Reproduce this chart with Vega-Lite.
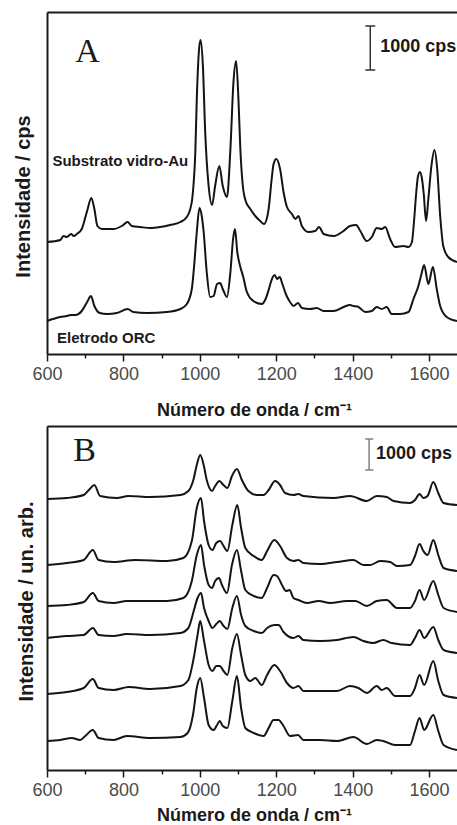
{
  "$schema": "https://vega.github.io/schema/vega-lite/v6.json",
  "padding": {"left": 13, "top": 12, "right": 0, "bottom": 0},
  "spacing": 7,
  "config": {"view": {"stroke": null}, "font": "Liberation Sans"},
  "datasets": {
    "specA": [
      {"s":"Au","x":600,"y":112},{"s":"Au","x":635,"y":114},{"s":"Au","x":643,"y":118},{"s":"Au","x":652,"y":117},{"s":"Au","x":663,"y":120},{"s":"Au","x":670,"y":118},{"s":"Au","x":678,"y":120},{"s":"Au","x":691,"y":125},{"s":"Au","x":705,"y":143},{"s":"Au","x":716,"y":156},{"s":"Au","x":724,"y":145},{"s":"Au","x":732,"y":128},{"s":"Au","x":744,"y":125},{"s":"Au","x":774,"y":125},{"s":"Au","x":796,"y":128},{"s":"Au","x":811,"y":132},{"s":"Au","x":822,"y":128},{"s":"Au","x":844,"y":127},{"s":"Au","x":870,"y":126},{"s":"Au","x":896,"y":127},{"s":"Au","x":922,"y":129},{"s":"Au","x":949,"y":132},{"s":"Au","x":966,"y":137},{"s":"Au","x":975,"y":145},{"s":"Au","x":980,"y":155},{"s":"Au","x":984,"y":172},{"s":"Au","x":988,"y":200},{"s":"Au","x":992,"y":255},{"s":"Au","x":998,"y":305},{"s":"Au","x":1002,"y":314},{"s":"Au","x":1008,"y":288},{"s":"Au","x":1014,"y":222},{"s":"Au","x":1023,"y":168},{"s":"Au","x":1032,"y":149},{"s":"Au","x":1040,"y":168},{"s":"Au","x":1051,"y":188},{"s":"Au","x":1060,"y":168},{"s":"Au","x":1071,"y":157},{"s":"Au","x":1080,"y":205},{"s":"Au","x":1088,"y":272},{"s":"Au","x":1095,"y":293},{"s":"Au","x":1101,"y":255},{"s":"Au","x":1106,"y":205},{"s":"Au","x":1112,"y":170},{"s":"Au","x":1120,"y":153},{"s":"Au","x":1132,"y":145},{"s":"Au","x":1145,"y":138},{"s":"Au","x":1158,"y":133},{"s":"Au","x":1168,"y":130},{"s":"Au","x":1180,"y":145},{"s":"Au","x":1188,"y":175},{"s":"Au","x":1193,"y":190},{"s":"Au","x":1200,"y":195},{"s":"Au","x":1210,"y":185},{"s":"Au","x":1219,"y":162},{"s":"Au","x":1228,"y":147},{"s":"Au","x":1241,"y":140},{"s":"Au","x":1250,"y":135},{"s":"Au","x":1258,"y":138},{"s":"Au","x":1267,"y":128},{"s":"Au","x":1284,"y":122},{"s":"Au","x":1302,"y":123},{"s":"Au","x":1312,"y":127},{"s":"Au","x":1324,"y":120},{"s":"Au","x":1350,"y":118},{"s":"Au","x":1376,"y":123},{"s":"Au","x":1393,"y":128},{"s":"Au","x":1409,"y":129},{"s":"Au","x":1420,"y":123},{"s":"Au","x":1437,"y":113},{"s":"Au","x":1450,"y":117},{"s":"Au","x":1463,"y":126},{"s":"Au","x":1476,"y":125},{"s":"Au","x":1485,"y":127},{"s":"Au","x":1498,"y":115},{"s":"Au","x":1511,"y":107},{"s":"Au","x":1533,"y":108},{"s":"Au","x":1546,"y":107},{"s":"Au","x":1555,"y":112},{"s":"Au","x":1561,"y":135},{"s":"Au","x":1566,"y":160},{"s":"Au","x":1571,"y":178},{"s":"Au","x":1576,"y":182},{"s":"Au","x":1581,"y":176},{"s":"Au","x":1586,"y":160},{"s":"Au","x":1592,"y":133},{"s":"Au","x":1598,"y":155},{"s":"Au","x":1606,"y":188},{"s":"Au","x":1614,"y":204},{"s":"Au","x":1621,"y":186},{"s":"Au","x":1629,"y":138},{"s":"Au","x":1637,"y":108},{"s":"Au","x":1650,"y":97},{"s":"Au","x":1673,"y":92},
      {"s":"ORC","x":600,"y":33},{"s":"ORC","x":635,"y":37},{"s":"ORC","x":652,"y":38},{"s":"ORC","x":663,"y":39},{"s":"ORC","x":674,"y":39},{"s":"ORC","x":691,"y":43},{"s":"ORC","x":705,"y":52},{"s":"ORC","x":715,"y":58},{"s":"ORC","x":724,"y":48},{"s":"ORC","x":738,"y":41},{"s":"ORC","x":757,"y":40},{"s":"ORC","x":783,"y":41},{"s":"ORC","x":811,"y":45},{"s":"ORC","x":826,"y":42},{"s":"ORC","x":861,"y":41},{"s":"ORC","x":914,"y":42},{"s":"ORC","x":949,"y":45},{"s":"ORC","x":966,"y":50},{"s":"ORC","x":979,"y":65},{"s":"ORC","x":985,"y":88},{"s":"ORC","x":992,"y":122},{"s":"ORC","x":999,"y":146},{"s":"ORC","x":1005,"y":138},{"s":"ORC","x":1010,"y":122},{"s":"ORC","x":1018,"y":82},{"s":"ORC","x":1027,"y":57},{"s":"ORC","x":1036,"y":58},{"s":"ORC","x":1045,"y":70},{"s":"ORC","x":1053,"y":71},{"s":"ORC","x":1060,"y":65},{"s":"ORC","x":1071,"y":57},{"s":"ORC","x":1080,"y":82},{"s":"ORC","x":1087,"y":115},{"s":"ORC","x":1092,"y":125},{"s":"ORC","x":1098,"y":102},{"s":"ORC","x":1106,"y":87},{"s":"ORC","x":1113,"y":78},{"s":"ORC","x":1123,"y":62},{"s":"ORC","x":1140,"y":53},{"s":"ORC","x":1162,"y":50},{"s":"ORC","x":1172,"y":55},{"s":"ORC","x":1180,"y":64},{"s":"ORC","x":1186,"y":72},{"s":"ORC","x":1191,"y":77},{"s":"ORC","x":1196,"y":79},{"s":"ORC","x":1202,"y":75},{"s":"ORC","x":1209,"y":77},{"s":"ORC","x":1216,"y":70},{"s":"ORC","x":1225,"y":60},{"s":"ORC","x":1236,"y":52},{"s":"ORC","x":1245,"y":48},{"s":"ORC","x":1257,"y":51},{"s":"ORC","x":1267,"y":46},{"s":"ORC","x":1289,"y":45},{"s":"ORC","x":1306,"y":46},{"s":"ORC","x":1324,"y":43},{"s":"ORC","x":1350,"y":43},{"s":"ORC","x":1376,"y":47},{"s":"ORC","x":1393,"y":49},{"s":"ORC","x":1402,"y":48},{"s":"ORC","x":1415,"y":47},{"s":"ORC","x":1433,"y":42},{"s":"ORC","x":1450,"y":43},{"s":"ORC","x":1463,"y":47},{"s":"ORC","x":1476,"y":45},{"s":"ORC","x":1489,"y":47},{"s":"ORC","x":1502,"y":40},{"s":"ORC","x":1524,"y":40},{"s":"ORC","x":1546,"y":42},{"s":"ORC","x":1559,"y":55},{"s":"ORC","x":1572,"y":68},{"s":"ORC","x":1580,"y":80},{"s":"ORC","x":1587,"y":89},{"s":"ORC","x":1598,"y":70},{"s":"ORC","x":1610,"y":87},{"s":"ORC","x":1620,"y":65},{"s":"ORC","x":1629,"y":48},{"s":"ORC","x":1646,"y":37},{"s":"ORC","x":1673,"y":33}
    ],
    "specB": [
      {"s":"1","x":600,"y":271},{"s":"1","x":652,"y":272},{"s":"1","x":696,"y":275},{"s":"1","x":712,"y":281},{"s":"1","x":724,"y":285},{"s":"1","x":739,"y":274},{"s":"1","x":783,"y":272},{"s":"1","x":813,"y":274},{"s":"1","x":870,"y":273},{"s":"1","x":949,"y":275},{"s":"1","x":970,"y":279},{"s":"1","x":983,"y":290},{"s":"1","x":992,"y":305},{"s":"1","x":1001,"y":315},{"s":"1","x":1010,"y":305},{"s":"1","x":1018,"y":290},{"s":"1","x":1032,"y":279},{"s":"1","x":1040,"y":284},{"s":"1","x":1051,"y":289},{"s":"1","x":1062,"y":285},{"s":"1","x":1072,"y":282},{"s":"1","x":1084,"y":294},{"s":"1","x":1097,"y":301},{"s":"1","x":1110,"y":290},{"s":"1","x":1127,"y":279},{"s":"1","x":1149,"y":275},{"s":"1","x":1167,"y":275},{"s":"1","x":1180,"y":280},{"s":"1","x":1197,"y":289},{"s":"1","x":1210,"y":285},{"s":"1","x":1223,"y":277},{"s":"1","x":1245,"y":275},{"s":"1","x":1258,"y":276},{"s":"1","x":1271,"y":274},{"s":"1","x":1350,"y":272},{"s":"1","x":1393,"y":274},{"s":"1","x":1437,"y":269},{"s":"1","x":1463,"y":274},{"s":"1","x":1489,"y":273},{"s":"1","x":1507,"y":269},{"s":"1","x":1550,"y":267},{"s":"1","x":1563,"y":270},{"s":"1","x":1575,"y":276},{"s":"1","x":1585,"y":272},{"s":"1","x":1596,"y":274},{"s":"1","x":1611,"y":288},{"s":"1","x":1624,"y":277},{"s":"1","x":1638,"y":267},{"s":"1","x":1673,"y":265},
      {"s":"2","x":600,"y":205},{"s":"2","x":652,"y":207},{"s":"2","x":696,"y":210},{"s":"2","x":720,"y":220},{"s":"2","x":735,"y":210},{"s":"2","x":774,"y":208},{"s":"2","x":831,"y":210},{"s":"2","x":914,"y":209},{"s":"2","x":957,"y":212},{"s":"2","x":979,"y":229},{"s":"2","x":992,"y":262},{"s":"2","x":1003,"y":272},{"s":"2","x":1011,"y":249},{"s":"2","x":1023,"y":225},{"s":"2","x":1033,"y":220},{"s":"2","x":1043,"y":227},{"s":"2","x":1053,"y":229},{"s":"2","x":1062,"y":224},{"s":"2","x":1072,"y":219},{"s":"2","x":1085,"y":245},{"s":"2","x":1098,"y":265},{"s":"2","x":1108,"y":242},{"s":"2","x":1119,"y":222},{"s":"2","x":1141,"y":214},{"s":"2","x":1162,"y":210},{"s":"2","x":1176,"y":219},{"s":"2","x":1195,"y":230},{"s":"2","x":1210,"y":224},{"s":"2","x":1228,"y":212},{"s":"2","x":1245,"y":209},{"s":"2","x":1258,"y":210},{"s":"2","x":1271,"y":207},{"s":"2","x":1315,"y":206},{"s":"2","x":1359,"y":208},{"s":"2","x":1402,"y":210},{"s":"2","x":1428,"y":205},{"s":"2","x":1446,"y":205},{"s":"2","x":1472,"y":209},{"s":"2","x":1498,"y":208},{"s":"2","x":1516,"y":204},{"s":"2","x":1550,"y":205},{"s":"2","x":1563,"y":214},{"s":"2","x":1575,"y":226},{"s":"2","x":1585,"y":219},{"s":"2","x":1596,"y":215},{"s":"2","x":1611,"y":230},{"s":"2","x":1624,"y":215},{"s":"2","x":1638,"y":202},{"s":"2","x":1673,"y":199},
      {"s":"3","x":600,"y":164},{"s":"3","x":652,"y":165},{"s":"3","x":696,"y":168},{"s":"3","x":720,"y":177},{"s":"3","x":735,"y":169},{"s":"3","x":774,"y":167},{"s":"3","x":809,"y":169},{"s":"3","x":844,"y":169},{"s":"3","x":914,"y":169},{"s":"3","x":957,"y":172},{"s":"3","x":979,"y":189},{"s":"3","x":992,"y":215},{"s":"3","x":1003,"y":225},{"s":"3","x":1011,"y":205},{"s":"3","x":1023,"y":185},{"s":"3","x":1032,"y":182},{"s":"3","x":1040,"y":189},{"s":"3","x":1050,"y":192},{"s":"3","x":1058,"y":185},{"s":"3","x":1071,"y":177},{"s":"3","x":1084,"y":205},{"s":"3","x":1097,"y":220},{"s":"3","x":1108,"y":199},{"s":"3","x":1119,"y":180},{"s":"3","x":1141,"y":174},{"s":"3","x":1162,"y":172},{"s":"3","x":1176,"y":182},{"s":"3","x":1193,"y":195},{"s":"3","x":1202,"y":194},{"s":"3","x":1215,"y":185},{"s":"3","x":1226,"y":179},{"s":"3","x":1235,"y":180},{"s":"3","x":1245,"y":172},{"s":"3","x":1258,"y":170},{"s":"3","x":1280,"y":167},{"s":"3","x":1311,"y":169},{"s":"3","x":1341,"y":167},{"s":"3","x":1385,"y":169},{"s":"3","x":1407,"y":169},{"s":"3","x":1437,"y":164},{"s":"3","x":1463,"y":169},{"s":"3","x":1489,"y":170},{"s":"3","x":1516,"y":162},{"s":"3","x":1550,"y":162},{"s":"3","x":1563,"y":169},{"s":"3","x":1575,"y":180},{"s":"3","x":1587,"y":170},{"s":"3","x":1611,"y":189},{"s":"3","x":1624,"y":175},{"s":"3","x":1638,"y":162},{"s":"3","x":1673,"y":158},
      {"s":"4","x":600,"y":132},{"s":"4","x":652,"y":134},{"s":"4","x":696,"y":135},{"s":"4","x":720,"y":142},{"s":"4","x":735,"y":135},{"s":"4","x":774,"y":134},{"s":"4","x":809,"y":136},{"s":"4","x":870,"y":135},{"s":"4","x":949,"y":137},{"s":"4","x":970,"y":142},{"s":"4","x":984,"y":159},{"s":"4","x":994,"y":172},{"s":"4","x":1003,"y":177},{"s":"4","x":1011,"y":162},{"s":"4","x":1023,"y":149},{"s":"4","x":1033,"y":142},{"s":"4","x":1043,"y":146},{"s":"4","x":1052,"y":149},{"s":"4","x":1062,"y":144},{"s":"4","x":1072,"y":141},{"s":"4","x":1085,"y":162},{"s":"4","x":1097,"y":174},{"s":"4","x":1108,"y":155},{"s":"4","x":1119,"y":144},{"s":"4","x":1141,"y":139},{"s":"4","x":1162,"y":137},{"s":"4","x":1176,"y":142},{"s":"4","x":1195,"y":145},{"s":"4","x":1206,"y":145},{"s":"4","x":1219,"y":138},{"s":"4","x":1245,"y":132},{"s":"4","x":1258,"y":134},{"s":"4","x":1271,"y":130},{"s":"4","x":1315,"y":129},{"s":"4","x":1359,"y":130},{"s":"4","x":1402,"y":133},{"s":"4","x":1428,"y":129},{"s":"4","x":1454,"y":127},{"s":"4","x":1480,"y":130},{"s":"4","x":1502,"y":127},{"s":"4","x":1550,"y":125},{"s":"4","x":1563,"y":132},{"s":"4","x":1575,"y":140},{"s":"4","x":1587,"y":132},{"s":"4","x":1611,"y":143},{"s":"4","x":1624,"y":130},{"s":"4","x":1638,"y":120},{"s":"4","x":1673,"y":117},
      {"s":"5","x":600,"y":76},{"s":"5","x":652,"y":78},{"s":"5","x":696,"y":82},{"s":"5","x":720,"y":91},{"s":"5","x":735,"y":82},{"s":"5","x":774,"y":80},{"s":"5","x":814,"y":83},{"s":"5","x":870,"y":81},{"s":"5","x":949,"y":84},{"s":"5","x":970,"y":90},{"s":"5","x":984,"y":112},{"s":"5","x":994,"y":135},{"s":"5","x":1001,"y":149},{"s":"5","x":1011,"y":129},{"s":"5","x":1023,"y":105},{"s":"5","x":1033,"y":99},{"s":"5","x":1043,"y":104},{"s":"5","x":1052,"y":104},{"s":"5","x":1062,"y":99},{"s":"5","x":1072,"y":95},{"s":"5","x":1085,"y":122},{"s":"5","x":1097,"y":136},{"s":"5","x":1108,"y":115},{"s":"5","x":1119,"y":95},{"s":"5","x":1132,"y":89},{"s":"5","x":1145,"y":92},{"s":"5","x":1162,"y":85},{"s":"5","x":1176,"y":95},{"s":"5","x":1195,"y":105},{"s":"5","x":1210,"y":99},{"s":"5","x":1228,"y":87},{"s":"5","x":1245,"y":82},{"s":"5","x":1258,"y":84},{"s":"5","x":1271,"y":79},{"s":"5","x":1315,"y":79},{"s":"5","x":1359,"y":79},{"s":"5","x":1393,"y":84},{"s":"5","x":1415,"y":82},{"s":"5","x":1437,"y":77},{"s":"5","x":1463,"y":84},{"s":"5","x":1476,"y":80},{"s":"5","x":1489,"y":82},{"s":"5","x":1511,"y":74},{"s":"5","x":1550,"y":74},{"s":"5","x":1563,"y":82},{"s":"5","x":1575,"y":95},{"s":"5","x":1587,"y":85},{"s":"5","x":1611,"y":109},{"s":"5","x":1624,"y":89},{"s":"5","x":1638,"y":75},{"s":"5","x":1673,"y":72},
      {"s":"6","x":600,"y":29},{"s":"6","x":635,"y":30},{"s":"6","x":665,"y":32},{"s":"6","x":687,"y":30},{"s":"6","x":700,"y":34},{"s":"6","x":720,"y":40},{"s":"6","x":735,"y":32},{"s":"6","x":774,"y":30},{"s":"6","x":809,"y":34},{"s":"6","x":870,"y":32},{"s":"6","x":949,"y":33},{"s":"6","x":968,"y":37},{"s":"6","x":982,"y":55},{"s":"6","x":992,"y":82},{"s":"6","x":1001,"y":92},{"s":"6","x":1011,"y":72},{"s":"6","x":1023,"y":45},{"s":"6","x":1036,"y":40},{"s":"6","x":1045,"y":45},{"s":"6","x":1052,"y":49},{"s":"6","x":1060,"y":44},{"s":"6","x":1072,"y":42},{"s":"6","x":1085,"y":69},{"s":"6","x":1097,"y":94},{"s":"6","x":1108,"y":62},{"s":"6","x":1119,"y":42},{"s":"6","x":1141,"y":37},{"s":"6","x":1167,"y":34},{"s":"6","x":1180,"y":42},{"s":"6","x":1193,"y":50},{"s":"6","x":1206,"y":50},{"s":"6","x":1219,"y":44},{"s":"6","x":1236,"y":34},{"s":"6","x":1257,"y":35},{"s":"6","x":1271,"y":30},{"s":"6","x":1315,"y":30},{"s":"6","x":1359,"y":29},{"s":"6","x":1402,"y":33},{"s":"6","x":1437,"y":26},{"s":"6","x":1463,"y":30},{"s":"6","x":1480,"y":29},{"s":"6","x":1511,"y":25},{"s":"6","x":1550,"y":25},{"s":"6","x":1563,"y":39},{"s":"6","x":1575,"y":52},{"s":"6","x":1587,"y":40},{"s":"6","x":1611,"y":55},{"s":"6","x":1624,"y":39},{"s":"6","x":1638,"y":25},{"s":"6","x":1673,"y":20}
    ],
    "barA": [
      {"x":1446,"x2":1446,"y":284,"y2":328},{"x":1433,"x2":1459,"y":284,"y2":284},{"x":1433,"x2":1459,"y":328,"y2":328}
    ],
    "barB": [
      {"x":1443,"x2":1443,"y":300,"y2":331},{"x":1433,"x2":1454,"y":300,"y2":300},{"x":1433,"x2":1454,"y":331,"y2":331}
    ],
    "letterA": [{"x":674,"y":292,"t":"A"}],
    "letterB": [{"x":669,"y":309,"t":"B"}],
    "labelsA": [{"x":792,"y":193,"t":"Substrato vidro-Au"},{"x":755,"y":16,"t":"Eletrodo ORC"}],
    "cpsA": [{"x":1472,"y":307,"t":"1000 cps"}],
    "cpsB": [{"x":1461,"y":316,"t":"1000 cps"}]
  },
  "vconcat": [
    {
      "width": 410,
      "height": 342,
      "resolve": {"axis": {"x": "independent", "y": "independent"}},
      "layer": [
        {
          "data": {"name": "specA"},
          "mark": {"type": "line", "interpolate": "monotone", "strokeWidth": 2, "color": "#141414"},
          "encoding": {
            "x": {"field": "x", "type": "quantitative", "scale": {"domain": [600, 1673], "nice": false, "zero": false},
              "axis": {"orient": "bottom", "values": [600,800,1000,1200,1400,1600], "format": "d", "grid": false, "domainColor": "#1a1a1a", "domainWidth": 2, "tickColor": "#1a1a1a", "tickWidth": 1.5, "tickSize": 7, "labelFlush": false, "labelOverlap": false, "labelFont": "Liberation Sans", "labelFontSize": 18, "labelColor": "#4a4a4a", "labelPadding": 4, "title": "Número de onda / cm⁻¹", "titleFont": "Liberation Sans", "titleFontSize": 18, "titleFontWeight": "bold", "titleColor": "#1a1a1a", "titleX": 207, "titleY": 61, "titleBaseline": "alphabetic", "titleAlign": "center", "titleAnchor": null}},
            "y": {"field": "y", "type": "quantitative", "scale": {"domain": [0, 342], "nice": false},
              "axis": {"orient": "left", "labels": false, "ticks": false, "grid": false, "domainColor": "#1a1a1a", "domainWidth": 2, "title": "Intensidade / cps", "titleFont": "Liberation Sans", "titleFontSize": 20, "titleFontWeight": "bold", "titleColor": "#1a1a1a", "titleX": -18, "titleY": 184, "titleAngle": 270, "titleBaseline": "alphabetic", "titleAlign": "center", "titleAnchor": null}},
            "detail": {"field": "s", "type": "nominal"}
          }
        },
        {
          "data": {"name": "barA"},
          "mark": {"type": "rule", "color": "#333333", "strokeWidth": 1.5},
          "encoding": {
            "x": {"field": "x", "type": "quantitative", "axis": {"orient": "top", "labels": false, "ticks": false, "grid": false, "title": null, "domainColor": "#1a1a1a", "domainWidth": 2}},
            "x2": {"field": "x2"},
            "y": {"field": "y", "type": "quantitative", "axis": null},
            "y2": {"field": "y2"}
          }
        },
        {
          "data": {"name": "letterA"},
          "mark": {"type": "text", "font": "Liberation Serif", "fontSize": 34, "align": "left", "baseline": "alphabetic", "color": "#1a1a1a"},
          "encoding": {
            "x": {"field": "x", "type": "quantitative", "axis": {"orient": "bottom", "values": [700,900,1100,1300,1500], "labels": false, "domain": false, "grid": false, "title": null, "tickColor": "#1a1a1a", "tickWidth": 1.5, "tickSize": 4, "offset": 0}},
            "y": {"field": "y", "type": "quantitative", "axis": null},
            "text": {"field": "t"}
          }
        },
        {
          "data": {"name": "labelsA"},
          "mark": {"type": "text", "font": "Liberation Sans", "fontSize": 15, "fontWeight": "bold", "align": "center", "baseline": "middle", "color": "#1a1a1a"},
          "encoding": {
            "x": {"field": "x", "type": "quantitative", "axis": null},
            "y": {"field": "y", "type": "quantitative", "axis": null},
            "text": {"field": "t"}
          }
        },
        {
          "data": {"name": "cpsA"},
          "mark": {"type": "text", "font": "Liberation Sans", "fontSize": 18, "fontWeight": "bold", "align": "left", "baseline": "middle", "color": "#1a1a1a"},
          "encoding": {
            "x": {"field": "x", "type": "quantitative", "axis": null},
            "y": {"field": "y", "type": "quantitative", "axis": null},
            "text": {"field": "t"}
          }
        }
      ]
    },
    {
      "width": 410,
      "height": 344,
      "resolve": {"axis": {"x": "independent", "y": "independent"}},
      "layer": [
        {
          "data": {"name": "specB"},
          "mark": {"type": "line", "interpolate": "monotone", "strokeWidth": 2, "color": "#141414"},
          "encoding": {
            "x": {"field": "x", "type": "quantitative", "scale": {"domain": [600, 1673], "nice": false, "zero": false},
              "axis": {"orient": "bottom", "values": [600,800,1000,1200,1400,1600], "format": "d", "grid": false, "domainColor": "#1a1a1a", "domainWidth": 2, "tickColor": "#1a1a1a", "tickWidth": 1.5, "tickSize": 7, "labelFlush": false, "labelOverlap": false, "labelFont": "Liberation Sans", "labelFontSize": 18, "labelColor": "#4a4a4a", "labelPadding": 4, "title": "Número de onda / cm⁻¹", "titleFont": "Liberation Sans", "titleFontSize": 18, "titleFontWeight": "bold", "titleColor": "#1a1a1a", "titleX": 207, "titleY": 50, "titleBaseline": "alphabetic", "titleAlign": "center", "titleAnchor": null}},
            "y": {"field": "y", "type": "quantitative", "scale": {"domain": [0, 344], "nice": false},
              "axis": {"orient": "left", "labels": false, "ticks": false, "grid": false, "domainColor": "#1a1a1a", "domainWidth": 2, "title": "Intensidade / un. arb.", "titleFont": "Liberation Sans", "titleFontSize": 20, "titleFontWeight": "bold", "titleColor": "#1a1a1a", "titleX": -15, "titleY": 175, "titleAngle": 270, "titleBaseline": "alphabetic", "titleAlign": "center", "titleAnchor": null}},
            "detail": {"field": "s", "type": "nominal"}
          }
        },
        {
          "data": {"name": "barB"},
          "mark": {"type": "rule", "color": "#808080", "strokeWidth": 1.5},
          "encoding": {
            "x": {"field": "x", "type": "quantitative", "axis": {"orient": "top", "labels": false, "ticks": false, "grid": false, "title": null, "domainColor": "#1a1a1a", "domainWidth": 2}},
            "x2": {"field": "x2"},
            "y": {"field": "y", "type": "quantitative", "axis": null},
            "y2": {"field": "y2"}
          }
        },
        {
          "data": {"name": "letterB"},
          "mark": {"type": "text", "font": "Liberation Serif", "fontSize": 34, "align": "left", "baseline": "alphabetic", "color": "#1a1a1a"},
          "encoding": {
            "x": {"field": "x", "type": "quantitative", "axis": {"orient": "bottom", "values": [700,900,1100,1300,1500], "labels": false, "domain": false, "grid": false, "title": null, "tickColor": "#1a1a1a", "tickWidth": 1.5, "tickSize": 4, "offset": 0}},
            "y": {"field": "y", "type": "quantitative", "axis": null},
            "text": {"field": "t"}
          }
        },
        {
          "data": {"name": "cpsB"},
          "mark": {"type": "text", "font": "Liberation Sans", "fontSize": 18, "fontWeight": "bold", "align": "left", "baseline": "middle", "color": "#1a1a1a"},
          "encoding": {
            "x": {"field": "x", "type": "quantitative", "axis": null},
            "y": {"field": "y", "type": "quantitative", "axis": null},
            "text": {"field": "t"}
          }
        }
      ]
    }
  ]
}
